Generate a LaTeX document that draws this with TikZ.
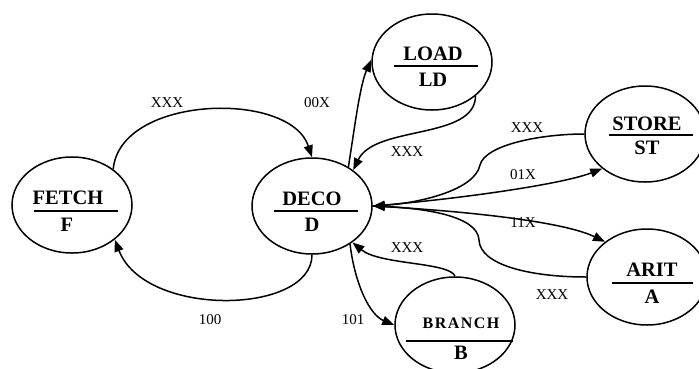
\documentclass[tikz,border=0pt]{standalone}
\usepackage{fontspec}
\setmainfont{Liberation Serif}
\usetikzlibrary{arrows.meta,shapes.geometric}
\tikzset{
  stateell/.style={ellipse,draw,line width=1.5pt,minimum width=120pt,minimum height=96pt,inner sep=0pt},
  ttl/.style={inner sep=0pt,font=\fontsize{20.5}{24}\selectfont\bfseries},
  lbl/.style={inner sep=0pt,font=\fontsize{15}{18}\selectfont},
  sep/.style={line width=1.8pt},
  edge/.style={line width=1.5pt,-{Triangle[length=12pt,width=9pt]}}
}
\begin{document}
\begin{tikzpicture}[x=1pt,y=-1pt]
\useasboundingbox (0,0) rectangle (699,368);
% states
\node[stateell] (F) at (72,205) {};
\node[stateell] (D) at (312,206) {};
\node[stateell] (L) at (432,62) {};
\node[stateell] (S) at (645,134) {};
\node[stateell] (A) at (647,277) {};
\node[stateell] (B) at (455,325) {};
% texts
\node[ttl] (Ft) at (68,198) {FETCH};
\node[ttl] (Fb) at (67,225) {F};
\draw[sep] (34,211) -- (118,211);
\node[ttl] (Dt) at (312,199) {DECO};
\node[ttl] (Db) at (312,225) {D};
\draw[sep] (274,211) -- (358,211);
\node[ttl] (Lt) at (433,54) {LOAD};
\node[ttl] (Lb) at (433,80) {LD};
\draw[sep] (394,66) -- (478,66);
\node[ttl] (St) at (647,124) {STORE};
\node[ttl] (Sb) at (647,148) {ST};
\draw[sep] (609,135) -- (693,135);
\node[ttl] (At) at (652,270) {ARIT};
\node[ttl] (Ab) at (652,297) {A};
\draw[sep] (612,283) -- (693,283);
\node[ttl,font=\fontsize{16}{18}\selectfont\bfseries\addfontfeature{LetterSpace=9}] (Bt) at (461,323) {BRANCH};
\node[ttl] (Bb) at (461,353) {B};
\draw[sep] (406,341) -- (513,341);
% edges
\draw[edge] (F.41) .. controls (120,95) and (290,90) .. (D.90);
\draw[edge] (D.270) .. controls (312,315) and (145,318) .. (F.-39);
\draw[edge] (D.47) .. controls (355,125) and (360,85) .. (L.178);
\draw[edge] (L.-38) .. controls (475,140) and (375,125) .. (D.41);
\draw[edge] (S.180) .. controls (540,134) and (485,145) .. (480,165) .. controls (475,190) and (420,203) .. (D.0);
\draw[edge] (D.0) .. controls (450,200) and (560,185) .. (S.-141);
\draw[edge] (D.0) .. controls (450,210) and (560,220) .. (A.140);
\draw[edge] (A.180) .. controls (530,277) and (480,265) .. (479,240) .. controls (478,215) and (420,208) .. (D.0);
\draw[edge] (B.90) .. controls (450,262) and (380,265) .. (D.-42);
\draw[edge] (D.-45) .. controls (355,285) and (370,315) .. (B.180);
% labels
\node[lbl] (l1) at (167,103) {XXX};
\node[lbl] (l2) at (317,103) {00X};
\node[lbl] (l3) at (407,152) {XXX};
\node[lbl] (l4) at (527,128) {XXX};
\node[lbl] (l5) at (523,175) {01X};
\node[lbl] (l6) at (523,223) {11X};
\node[lbl] (l7) at (407,248) {XXX};
\node[lbl] (l8) at (552,295) {XXX};
\node[lbl] (l9) at (210,320) {100};
\node[lbl] (l10) at (353,320) {101};
\end{tikzpicture}
\end{document}
